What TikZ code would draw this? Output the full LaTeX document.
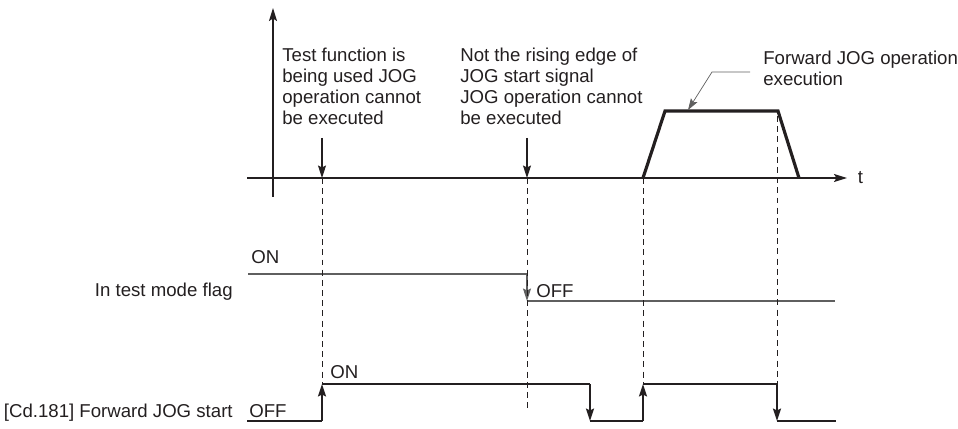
\documentclass[tikz,border=0pt]{standalone}
\usepackage{fontspec}
\setmainfont{Liberation Sans}
\usepackage{tikz}
\usetikzlibrary{arrows.meta, positioning}
\definecolor{mydark}{RGB}{35,31,32}
\definecolor{mygray}{RGB}{95,95,95}
\tikzset{
  axisline/.style={line width=0.8pt, color=mydark},
  axisarrow/.style={axisline, -{Stealth[length=2.6mm, width=1.6mm, inset=0.5mm]}},
  note/.style={align=left, inner sep=0pt, anchor=north west, color=mydark},
  lbl/.style={inner sep=0pt, color=mydark},
  guide/.style={line width=0.5pt, color=mydark, dash pattern=on 3.4pt off 2.4pt},
  pointer/.style={line width=0.6pt, color=mydark, -{Stealth[length=2.5mm, width=1.6mm, inset=0.4mm]}},
  profile/.style={line width=1.8pt, color=mydark, line join=miter},
  flagline/.style={line width=0.7pt, color=mygray},
  jogline/.style={line width=1pt, color=mydark},
  flagedge/.style={flagline, -{Stealth[length=2.5mm, width=1.6mm, inset=0.4mm]}},
  jogedge/.style={jogline, -{Stealth[length=2.5mm, width=1.6mm, inset=0.4mm]}},
  leader/.style={line width=0.4pt, color=mygray, -{Stealth[length=2.3mm, width=1.5mm, inset=0.4mm]}}
}
\begin{document}
\begin{tikzpicture}[x=0.02cm, y=-0.02cm, every node/.style={font=\fontsize{10.6}{11.9}\selectfont}]
  \useasboundingbox (0,0) rectangle (958,429);

  % axes
  \coordinate (vbot) at (273,197);
  \coordinate (vtop) at (273,8);
  \coordinate (hleft) at (247,178);
  \coordinate (hright) at (847,178);
  \draw[axisarrow] (vbot) -- (vtop);
  \draw[axisarrow] (hleft) -- (hright);
  \node[lbl, anchor=west, right=6pt of hright] (tlab) {t};

  % speed profile
  \coordinate (p0) at (643,178);
  \coordinate (p1) at (665,111);
  \coordinate (p2) at (778,111);
  \coordinate (p3) at (799,178);
  \draw[profile] (p0) -- (p1) -- (p2) -- (p3);

  % notes
  \node[note] (notetest) at (282,48) {Test function is\\being used JOG\\operation cannot\\be executed};
  \node[note] (noteedge) at (460,48) {Not the rising edge of\\JOG start signal\\JOG operation cannot\\be executed};
  \node[note] (notefwd) at (763,51) {Forward JOG operation\\execution};

  \coordinate (atest) at (322,138);
  \coordinate (xtest) at (322,178);
  \coordinate (aedge) at (527,138);
  \coordinate (xedge) at (527,178);
  \draw[pointer] (atest) -- (xtest);
  \draw[pointer] (aedge) -- (xedge);

  \coordinate (la) at (750,72);
  \coordinate (lb) at (712,72);
  \coordinate (lc) at (688,110);
  \draw[leader] (la) -- (lb) -- (lc);

  % in test mode flag
  \node[lbl, anchor=east] (flagname) at (233,292) {In test mode flag};
  \node[lbl, anchor=base west] (flagon) at (251,264) {ON};
  \coordinate (f0) at (248,274);
  \coordinate (f1) at (527,274);
  \coordinate (f2) at (527,301);
  \coordinate (f3) at (835,301);
  \draw[flagline] (f0) -- (f1);
  \draw[flagedge] (f1) -- (f2);
  \draw[flagline] (f2) -- (f3);
  \node[lbl, anchor=base west] (flagoff) at (536,297) {OFF};

  % forward JOG start
  \node[lbl, anchor=east] (jogname) at (233,413) {[Cd.181] Forward JOG start};
  \node[lbl, anchor=base west] (jogoff) at (249,418) {OFF};
  \node[lbl, anchor=base west] (jogon) at (330,378) {ON};
  \coordinate (j0) at (247,421);
  \coordinate (j1) at (322,421);
  \coordinate (j2) at (322,384);
  \coordinate (j3) at (590,384);
  \coordinate (j4) at (590,421);
  \coordinate (j5) at (643,421);
  \coordinate (j6) at (643,384);
  \coordinate (j7) at (777,384);
  \coordinate (j8) at (777,421);
  \coordinate (j9) at (836,421);
  \draw[jogline] (j0) -- (j1);
  \draw[jogedge] (j1) -- (j2);
  \draw[jogline] (j2) -- (j3);
  \draw[jogedge] (j3) -- (j4);
  \draw[jogline] (j4) -- (j5);
  \draw[jogedge] (j5) -- (j6);
  \draw[jogline] (j6) -- (j7);
  \draw[jogedge] (j7) -- (j8);
  \draw[jogline] (j8) -- (j9);

  % guides
  \coordinate (g2) at (527,408);
  \coordinate (g4) at (777,116);
  \draw[guide] (xtest) -- (j2);
  \draw[guide] (xedge) -- (g2);
  \draw[guide] (p0) -- (j6);
  \draw[guide] (g4) -- (j7);
\end{tikzpicture}
\end{document}
